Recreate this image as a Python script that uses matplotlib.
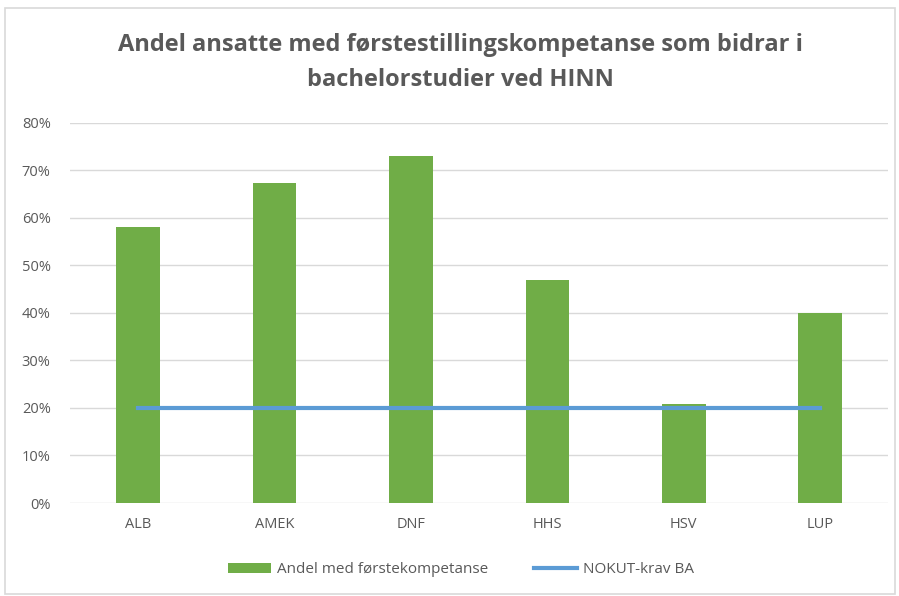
import matplotlib
matplotlib.use('Agg')
import matplotlib.pyplot as plt
from matplotlib.patches import Rectangle
from matplotlib.ticker import PercentFormatter

# === Data ===
categories = ['ALB', 'AMEK', 'DNF', 'HHS', 'HSV', 'LUP']
andel = [0.58, 0.674, 0.73, 0.47, 0.208, 0.40]
nokut_krav = [0.20, 0.20, 0.20, 0.20, 0.20, 0.20]
title = 'Andel ansatte med førstestillingskompetanse som bidrar i\nbachelorstudier ved HINN'

plt.rcParams['font.family'] = ['Open Sans', 'DejaVu Sans']
text_col = '#595959'

fig = plt.figure(figsize=(8.99, 5.96), dpi=100)
fig.patches.append(Rectangle((0.006, 0.003), 0.99, 0.984, transform=fig.transFigure,
                             fill=False, edgecolor='#D9D9D9', linewidth=1.2))

ax = fig.add_axes([0.078, 0.156, 0.91, 0.638])
x = range(len(categories))
bars = ax.bar(x, andel, width=0.32, color='#70AD47', label='Andel med førstekompetanse', zorder=2)
line, = ax.plot(x, nokut_krav, color='#5B9BD5', linewidth=3, label='NOKUT-krav BA', zorder=3)

ax.set_xlim(-0.5, len(categories) - 0.5)
ax.set_ylim(0, 0.8)
ax.set_yticks([i / 10 for i in range(9)])
ax.yaxis.set_major_formatter(PercentFormatter(1.0, decimals=0))
ax.set_xticks(list(x))
ax.set_xticklabels(categories)
ax.tick_params(axis='both', length=0, colors=text_col, labelsize=10.5)
ax.tick_params(axis='y', pad=14)
ax.tick_params(axis='x', pad=10)
ax.grid(axis='y', color='#D9D9D9', linewidth=1, zorder=0)
for s in ax.spines.values():
    s.set_visible(False)

fig.text(0.512, 0.895, title, ha='center', va='center', fontsize=17, fontweight='bold',
         color=text_col, linespacing=1.6)

fig.legend(handles=[bars, line], loc='center', bbox_to_anchor=(0.513, 0.044), ncol=2,
           frameon=False, fontsize=11, labelcolor=text_col, handlelength=2.8,
           handleheight=0.6, handletextpad=0.4, columnspacing=3)

fig.savefig('out.png', dpi=100)
